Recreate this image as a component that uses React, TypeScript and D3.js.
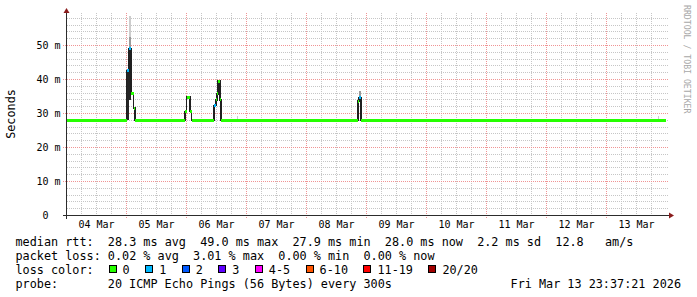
import React from 'react';
import * as d3 from 'd3';

const W = 697;
const H = 297;

// ---- data (hours since 2026-03-04 00:00, rtt in ms) ----
const startTime = new Date(2026, 2, 4, 0, 0, 0);
const endTime = new Date(2026, 2, 14, 0, 0, 0);
const lastHour = 239.6; // Fri Mar 13 23:37

const segHours = [0, 1.8, 2.0, 24.0, 25.1, 25.8, 26.8, 27.3, 47.5, 48.0, 49.3, 50.0, 51.0, 51.4, 59.0, 59.7, 60.2, 60.7, 61.4, 61.8, 96.2, 99.4, 116.6, 117.1, 117.8];
const segRtt = [28.0, 27.8, 28.0, 42.5, 49.0, 36.0, 31.6, 28.0, 30.6, 34.8, 30.7, 28.0, 27.8, 28.0, 32.4, 34.0, 35.8, 39.5, 34.0, 28.0, 27.8, 28.0, 33.6, 34.6, 28.0];
const segLoss = [0, 0, 0, 1, 1, 0, 0, 0, 0, 0, 0, 0, 0, 0, 1, 0, 0, 0, 0, 0, 0, 0, 0, 1, 0];

// smoke (ping spread) pieces
const smokeFrom = [24.0, 25.1, 25.1, 25.1, 116.9, 68.2, 236.4];
const smokeTo = [25.1, 25.8, 25.8, 25.8, 117.8, 68.6, 236.8];
const smokeLo = [28.0, 34.0, 49.0, 52.5, 34.6, 28.0, 28.0];
const smokeHi = [42.5, 49.0, 52.5, 58.8, 36.6, 29.3, 29.2];
const smokeLevel = [0, 0, 1, 2, 1, 2, 2];

const lossLabels = ['0', '1', '2', '3', '4-5', '6-10', '11-19', '20/20'];
const lossColors = ['#26ff00', '#00b8ff', '#0059ff', '#5e00ff', '#ff00ff', '#ff5500', '#ff0000', '#a10000'];

const medianStats = ['28.3 ms avg', '49.0 ms max', '27.9 ms min', '28.0 ms now', '2.2 ms sd', '12.8   am/s'];
const lossStats = ['0.02 % avg', '3.01 % max', '0.00 % min', '0.00 % now'];
const probeText = '20 ICMP Echo Pings (56 Bytes) every 300s';
const stampText = 'Fri Mar 13 23:37:21 2026';

// ---- layout ----
const FONT = "'DejaVu Sans Mono', monospace";
const CW = 7.1; // char advance for legend font
const LEG_FS = 11.8;
const AX_FS = 10;
const legX = 15.5;
const col13 = legX + 13 * CW;

const hourToDate = (h: number) => new Date(startTime.getTime() + h * 3600e3);

export default function App() {
  const x = d3.scaleTime().domain([startTime, endTime]).range([66.5, 666.5]);
  const y = d3.scaleLinear().domain([0, 0.05926]).range([215.5, 14]);
  const ym = (ms: number) => y(ms / 1000);
  const crisp = (v: number) => Math.round(v - 0.5) + 0.5;

  const majorY = y.ticks(6);
  const minorY = y.ticks(30).filter((v) => Math.abs(Math.round(v * 1000) % 10) !== 0);
  const allHours = d3.timeHour.every(6)!.range(startTime, hourToDate(235));
  const majorX = allHours.filter((d) => d.getHours() === 0 && d > startTime);
  const minorX = allHours.filter((d) => d.getHours() !== 0);
  const dayNoons = d3.timeDay.range(startTime, endTime).map((d) => d3.timeHour.offset(d, 12));

  const segEnds = segHours.map((h, i) => (i + 1 < segHours.length ? segHours[i + 1] : lastHour));

  const linePts: [number, number][] = segHours.map((h, i) => [x(hourToDate(h)), ym(segRtt[i])]);
  linePts.push([x(hourToDate(lastHour)), ym(segRtt[segRtt.length - 1])]);
  const medianPath = d3.line().curve(d3.curveStepAfter)(linePts) || '';

  const smokeShades = ['#262626', '#9a9a9a', '#cdcdcd'];
  const gridGray = '#c6c6c6';
  const gridRed = '#f09494';

  // loss legend positions
  let c = 13.15;
  const lossItems = lossLabels.map((lab, i) => {
    const bx = legX + c * CW - 0.3;
    c += lab.length + 4.15;
    return { lab, bx, color: lossColors[i] };
  });

  const rowY = [245.5, 259.5, 273.5, 287.5];
  const medLine = 'median rtt:  ' + medianStats.join('  ');
  const lossLine = 'packet loss: ' + lossStats.join('  ');

  return (
    <svg width={W} height={H} style={{ position: 'absolute', left: 0, top: 0, background: '#fff' }}>
      <rect x={0} y={0} width={W} height={H} fill="#fff" />
      {/* grid */}
      <g fill="none" strokeWidth={1} shapeRendering="crispEdges">
        {minorY.map((v, i) => (
          <line key={'hy' + i} x1={67} x2={668} y1={crisp(y(v))} y2={crisp(y(v))} stroke={gridGray} strokeDasharray="1,1" />
        ))}
        {minorX.map((d, i) => (
          <line key={'vx' + i} x1={x(d)} x2={x(d)} y1={13} y2={215} stroke={gridGray} strokeDasharray="1,1" />
        ))}
        {majorY.filter((v) => v > 0).map((v, i) => (
          <line key={'my' + i} x1={63} x2={668} y1={crisp(y(v))} y2={crisp(y(v))} stroke={gridRed} strokeDasharray="1,1" />
        ))}
        {majorX.map((d, i) => (
          <line key={'mx' + i} x1={x(d)} x2={x(d)} y1={13} y2={218} stroke={gridRed} strokeDasharray="1,1" />
        ))}
      </g>

      {/* smoke */}
      <g shapeRendering="crispEdges">
        {smokeFrom.map((h, i) => {
          const x0 = x(hourToDate(h));
          const x1 = x(hourToDate(smokeTo[i]));
          const y0 = ym(smokeHi[i]);
          const y1 = ym(smokeLo[i]);
          return <rect key={'s' + i} x={x0} y={y0} width={x1 - x0} height={y1 - y0} fill={smokeShades[smokeLevel[i]]} />;
        })}
      </g>

      {/* median step line */}
      <path d={medianPath} fill="none" stroke="#202020" strokeWidth={1.6} shapeRendering="crispEdges" />

      {/* loss-coloured median bars */}
      <g shapeRendering="crispEdges">
        {segHours.map((h, i) => {
          const x0 = x(hourToDate(h));
          const x1 = x(hourToDate(segEnds[i]));
          return (
            <rect key={'m' + i} x={x0} y={ym(segRtt[i]) - 1.5} width={x1 - x0} height={3} fill={lossColors[segLoss[i]]} />
          );
        })}
      </g>

      {/* axes */}
      <g shapeRendering="crispEdges">
        <line x1={63} x2={670} y1={215.5} y2={215.5} stroke="#2c2c2c" />
        <line x1={66.5} x2={66.5} y1={218.5} y2={12} stroke="#2c2c2c" />
      </g>
      <path d="M66.5,8 L63.5,13 L69.5,13 Z" fill="#8a1c1c" />
      <path d="M674,215.5 L669,212.5 L669,218.5 Z" fill="#8a1c1c" />

      {/* y tick labels */}
      <g fontFamily={FONT} fontSize={AX_FS} fill="#000">
        {majorY.map((v, i) => {
          const ms = Math.round(v * 1000);
          return ms === 0 ? (
            <text key={'yl' + i} x={60.5 - 2 * 6.02} y={y(v) + 3.4} textAnchor="end">0</text>
          ) : (
            <text key={'yl' + i} x={60.5} y={y(v) + 3.4} textAnchor="end">{`${ms} m`}</text>
          );
        })}
        {dayNoons.map((d, i) => (
          <text key={'xl' + i} x={x(d)} y={228.4} textAnchor="middle">{d3.timeFormat('%d %b')(d)}</text>
        ))}
      </g>

      <text x={15} y={114} transform="rotate(-90 15 114)" textAnchor="middle" fontFamily={FONT} fontSize={LEG_FS} fill="#000">Seconds</text>

      <text x={683.6} y={5} transform="rotate(90 683.6 5)" fontFamily={FONT} fontSize={8.2} fill="#a8a8a8">RRDTOOL / TOBI OETIKER</text>

      {/* legend */}
      <g fontFamily={FONT} fontSize={LEG_FS} fill="#000" style={{ whiteSpace: 'pre' }}>
        <text x={legX} y={rowY[0]} xmlSpace="preserve">{medLine}</text>
        <text x={legX} y={rowY[1]} xmlSpace="preserve">{lossLine}</text>
        <text x={legX} y={rowY[2]} xmlSpace="preserve">{'loss color:'}</text>
        {lossItems.map((it, i) => (
          <g key={'li' + i}>
            <rect x={it.bx + 0.5} y={265.5} width={7} height={7} fill={it.color} stroke="#000" strokeWidth={1} shapeRendering="crispEdges" />
            <text x={it.bx + 14} y={rowY[2]}>{it.lab}</text>
          </g>
        ))}
        <text x={legX} y={rowY[3]}>probe:</text>
        <text x={col13} y={rowY[3]} xmlSpace="preserve">{probeText}</text>
        <text x={681} y={rowY[3]} textAnchor="end">{stampText}</text>
      </g>
    </svg>
  );
}
